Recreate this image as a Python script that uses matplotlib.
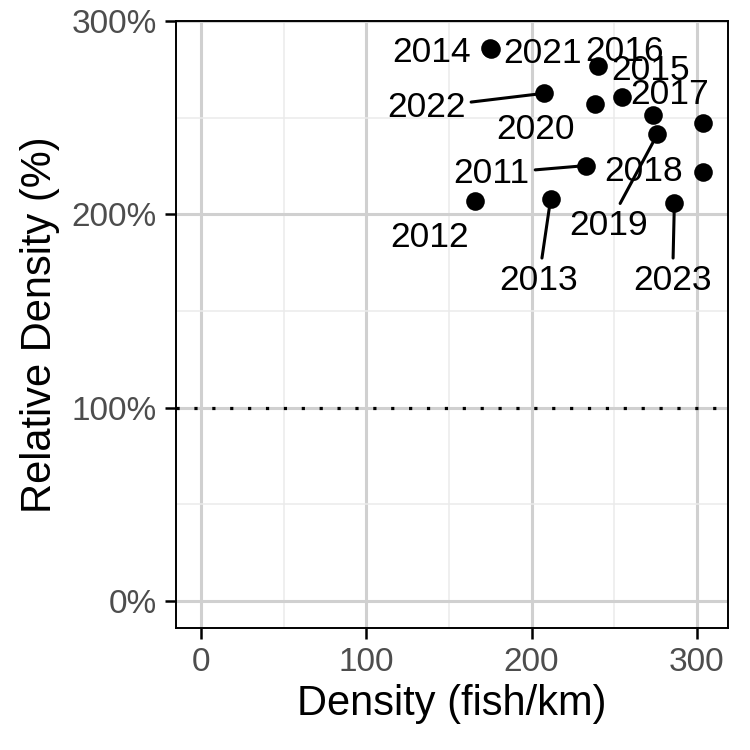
import matplotlib
matplotlib.use("Agg")
import matplotlib.pyplot as plt
from matplotlib.ticker import MultipleLocator, FuncFormatter

plt.rcParams['font.family'] = ['Liberation Sans', 'DejaVu Sans']

# ---- data ----
years = ["2011", "2012", "2013", "2014", "2015", "2016", "2017", "2018",
         "2019", "2020", "2021", "2022", "2023", ""]
density = [232.7, 165.5, 211.5, 175.1, 254.7, 240.0, 273.3, 303.5,
           276.1, 238.2, 175.6, 207.5, 286.4, 303.5]
rel_density = [225.2, 206.9, 207.9, 285.9, 260.9, 276.7, 251.4, 222.1,
               241.4, 256.9, 285.6, 262.6, 206.0, 247.4]

x_ticks = [0, 100, 200, 300]
y_ticks = [0, 100, 200, 300]

# ---- label layout (offsets in data units, not data) ----
label_offsets = {
    "2014": (-35.5, -0.6), "2021": (31.0, -0.6), "2016": (16.5, 9.2),
    "2015": (17.0, 15.5), "2022": (-71.2, -5.5), "2017": (10.0, 12.6),
    "2020": (-36.1, -11.2), "2011": (-56.9, -2.3), "2018": (-35.7, 2.0),
    "2019": (-29.6, -45.2), "2012": (-27.0, -17.2), "2013": (-7.2, -40.1),
    "2023": (-1.1, -38.2),
}
with_segment = {"2022", "2011", "2013", "2023", "2019"}

fig = plt.figure(figsize=(7.5, 7.5), dpi=100)
ax = fig.add_axes([0.2347, 0.1631, 0.9703 - 0.2347, 0.972 - 0.1631])

# limits: include 0, 5% expansion on x
xmin, xmax = 0, max(density)
span = xmax - xmin
ax.set_xlim(xmin - 0.05 * span, xmax + 0.05 * span)
ax.set_ylim(-13.8, 300)

# grid
ax.set_xticks(x_ticks)
ax.set_yticks(y_ticks)
ax.xaxis.set_minor_locator(MultipleLocator(50))
ax.yaxis.set_minor_locator(MultipleLocator(50))
ax.grid(which='major', color='#d0d0d0', linewidth=2.2)
ax.grid(which='minor', color='#ebebeb', linewidth=1.1)
ax.set_axisbelow(True)

ax.axhline(100, color='black', linewidth=2.3, linestyle=(0, (1, 4.6)),
           dash_capstyle='butt', zorder=1.5)

ax.scatter(density, rel_density, s=180, color='black', zorder=3, linewidths=0)

for yr, x, y in zip(years, density, rel_density):
    if not yr:
        continue
    dx, dy = label_offsets[yr]
    kw = {}
    if yr in with_segment:
        kw['arrowprops'] = dict(arrowstyle='-', color='black', lw=2.2,
                                shrinkA=2, shrinkB=4)
    ax.annotate(yr, xy=(x, y), xytext=(x + dx, y + dy), textcoords='data',
                ha='center', va='center_baseline', fontsize=25.5, color='black',
                zorder=4, **kw)

ax.yaxis.set_major_formatter(FuncFormatter(lambda v, p: f"{int(v)}%"))
ax.tick_params(which='major', length=8, width=1.8, color='black',
               labelsize=24, labelcolor='#4d4d4d', pad=6)
ax.tick_params(which='minor', length=0)
for sp in ax.spines.values():
    sp.set_linewidth(1.4)
    sp.set_color('black')

ax.set_xlabel("Density (fish/km)", fontsize=30, labelpad=4)
ax.set_ylabel("Relative Density (%)", fontsize=30, labelpad=8)

fig.savefig("out.png", dpi=100)
